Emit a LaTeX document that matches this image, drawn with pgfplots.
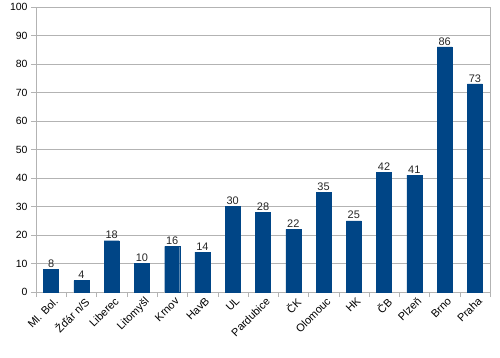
\documentclass[border=0pt]{standalone}
\usepackage{pgfplots}
\pgfplotsset{compat=1.18}
\usepackage{fontspec}
\setmainfont{Liberation Sans}
\definecolor{barblue}{HTML}{004586}
\definecolor{gridgray}{HTML}{B3B3B3}
\begin{document}
\begin{tikzpicture}
\path (-36bp,-65bp) rectangle (464bp,292bp);
\begin{axis}[
  at={(0,0)}, anchor=south west,
  scale only axis,
  width=454bp, height=285bp,
  ymin=0, ymax=100,
  ytick={0,10,...,100},
  xmin=-0.5, xmax=14.5,
  xtick={0,...,14},
  xticklabels={Ml. Bol., Žďár n/S, Liberec, Litomyšl, Krnov, HavB, UL, Pardubice, ČK, Olomouc, HK, ČB, Plzeň, Brno, Praha},
  xticklabel style={rotate=45, anchor=north east, font=\fontsize{11}{12}\selectfont, inner sep=1pt, xshift=3bp},
  yticklabel style={font=\fontsize{10.5}{12}\selectfont},
  /pgf/number format/assume math mode=true,
  major x tick style={draw=none},
  minor xtick={-0.5,0.5,...,14.5},
  minor tick length=5bp,
  minor x tick style={gridgray},
  major tick length=5bp,
  ytick style={gridgray},
  tick align=outside,
  xtick pos=bottom, ytick pos=left,
  ymajorgrids,
  grid style={gridgray, line width=0.6pt},
  axis line style={gridgray},
  axis x line*=bottom,
  axis y line*=left,
  clip=false,
  nodes near coords,
  nodes near coords style={font=\fontsize{11}{12}\selectfont, text=black!85, inner sep=1.5pt},
]
\draw[gridgray] (axis cs:14.5,0) -- (axis cs:14.5,100);
\addplot[ybar, bar width=15bp, fill=barblue, draw=barblue] coordinates {
(0,8) (1,4) (2,18) (3,10) (4,16) (5,14) (6,30) (7,28) (8,22) (9,35) (10,25) (11,42) (12,41) (13,86) (14,73)
};
\end{axis}
\end{tikzpicture}
\end{document}
